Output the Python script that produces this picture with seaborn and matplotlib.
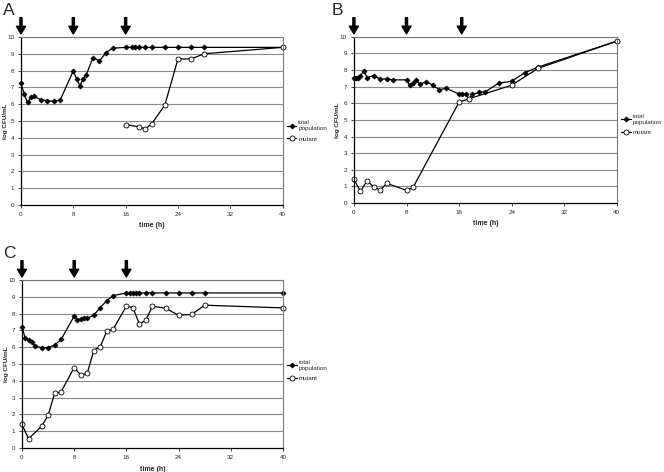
import pandas as pd
import matplotlib.pyplot as plt
import seaborn as sns

# panel A
a_total_t = [0, 0.5, 1, 1.5, 2, 3, 4, 5, 6, 8, 8.5, 9, 9.5, 10, 11, 12, 13, 14,
             16, 17, 17.5, 18, 19, 20, 22, 24, 26, 28, 40]
a_total_y = [7.24, 6.6, 6.1, 6.4, 6.47, 6.27, 6.21, 6.17, 6.25, 7.98, 7.52, 7.1,
             7.5, 7.76, 8.77, 8.57, 9.07, 9.33,
             9.38, 9.38, 9.38, 9.38, 9.38, 9.38, 9.38, 9.38, 9.38, 9.38, 9.38]
a_mut_t = [16, 18, 19, 20, 22, 24, 26, 28, 40]
a_mut_y = [4.78, 4.66, 4.52, 4.84, 5.95, 8.69, 8.69, 9.0, 9.38]
a_arrows = [0, 8, 16]

# panel B
b_total_t = [0, 0.3, 0.6, 1, 1.5, 2, 3, 4, 5, 6, 8, 8.5, 9, 9.5, 10, 11, 12, 13,
             14, 16, 16.5, 17, 17.5, 18, 19, 20, 22, 24, 26, 28, 40]
b_total_y = [7.5, 7.5, 7.54, 7.65, 7.96, 7.55, 7.67, 7.45, 7.47, 7.41, 7.41, 7.09,
             7.2, 7.41, 7.13, 7.31, 7.09, 6.81, 6.91, 6.55, 6.55, 6.55, 6.25, 6.53,
             6.65, 6.69, 7.21, 7.33, 7.84, 8.18, 9.74]
b_mut_t = [0, 1, 2, 3, 4, 5, 8, 9, 16, 17.5, 24, 28, 40]
b_mut_y = [1.42, 0.7, 1.34, 0.96, 0.78, 1.18, 0.76, 0.94, 6.07, 6.27, 7.09, 8.1, 9.74]
b_arrows = [0, 8, 16.4]

# panel C
c_total_t = [0, 0.5, 1, 1.5, 2, 3, 4, 5, 6, 8, 8.5, 9, 9.5, 10, 11, 12, 13, 14,
             16, 16.5, 17, 17.5, 18, 19, 20, 22, 24, 26, 28, 40]
c_total_y = [7.21, 6.53, 6.42, 6.32, 6.06, 5.98, 5.98, 6.12, 6.46, 7.85, 7.63,
             7.68, 7.76, 7.72, 7.9, 8.36, 8.77, 9.07,
             9.23, 9.23, 9.23, 9.23, 9.23, 9.23, 9.23, 9.23, 9.23, 9.23, 9.23, 9.23]
c_mut_t = [0, 1, 3, 4, 5, 6, 8, 9, 10, 11, 12, 13, 14, 16, 17, 18, 19, 20, 22,
           24, 26, 28, 40]
c_mut_y = [1.41, 0.55, 1.29, 1.94, 3.25, 3.35, 4.79, 4.34, 4.44, 5.8, 6.04, 6.95,
           7.09, 8.44, 8.36, 7.37, 7.62, 8.44, 8.32, 7.9, 7.95, 8.5, 8.34]
c_arrows = [0, 8, 16]

sns.set_style("white")
plt.rcParams['font.family'] = ['Liberation Sans', 'DejaVu Sans']
plt.rcParams['font.size'] = 4.5

fig = plt.figure(figsize=(6.64, 4.72), dpi=100)


def panel(rect, tot_t, tot_y, mut_t, mut_y, arrows, letter, letter_xy, leg_y):
    ax = fig.add_axes(rect)
    sns.lineplot(x=tot_t, y=tot_y, color='black', lw=0.9, marker='D',
                 markersize=2.6, mfc='black', mec='black', mew=0.5,
                 label='total\npopulation', clip_on=False, ax=ax)
    sns.lineplot(x=mut_t, y=mut_y, color='black', lw=0.9, marker='o',
                 markersize=3.6, mfc='white', mec='black', mew=0.6,
                 label='mutant', clip_on=False, ax=ax)
    ax.set_xlim(0, 40)
    ax.set_ylim(0, 10)
    ax.set_xticks(range(0, 41, 8))
    ax.set_yticks(range(0, 11))
    for v in range(1, 11):
        ax.axhline(v, color='#8a8a8a', lw=0.8, zorder=0)
    for s in ['left', 'bottom']:
        ax.spines[s].set_color('black')
        ax.spines[s].set_linewidth(0.9)
    for s in ['top', 'right']:
        ax.spines[s].set_color('#777777')
        ax.spines[s].set_linewidth(0.8)
    ax.tick_params(axis='both', direction='out', length=2, width=0.6,
                   labelsize=4.5, pad=3, left=True, bottom=True)
    ax.set_xlabel('time (h)', fontsize=5, fontweight='bold', labelpad=4)
    ax.set_ylabel('log CFU/mL', fontsize=4.6, fontweight='bold',
                  va='center', rotation_mode='anchor')
    ax.yaxis.set_label_coords(-0.061, 0.5)
    ax.legend(loc='center left', bbox_to_anchor=(1.0, leg_y), frameon=False,
              fontsize=4.5, handlelength=1.5, handletextpad=0.3,
              labelspacing=0.8, borderaxespad=0.3)
    for t in arrows:
        ax.annotate('', xy=(t, 1.018), xytext=(t, 1.115),
                    xycoords=('data', 'axes fraction'),
                    textcoords=('data', 'axes fraction'),
                    arrowprops=dict(width=1.5, headwidth=6.5, headlength=5.5,
                                    color='black', shrink=0))
    fig.text(letter_xy[0], letter_xy[1], letter, fontsize=12.5,
             ha='left', va='top')
    return ax


panel([0.0316, 0.5657, 0.394, 0.356], a_total_t, a_total_y, a_mut_t, a_mut_y,
      a_arrows, 'A', (0.004, 0.993), 0.44)
panel([0.533, 0.570, 0.396, 0.352], b_total_t, b_total_y, b_mut_t, b_mut_y,
      b_arrows, 'B', (0.499, 0.993), 0.47)
panel([0.0331, 0.0508, 0.393, 0.356], c_total_t, c_total_y, c_mut_t, c_mut_y,
      c_arrows, 'C', (0.004, 0.478), 0.46)

plt.savefig('out.png', dpi=100)
